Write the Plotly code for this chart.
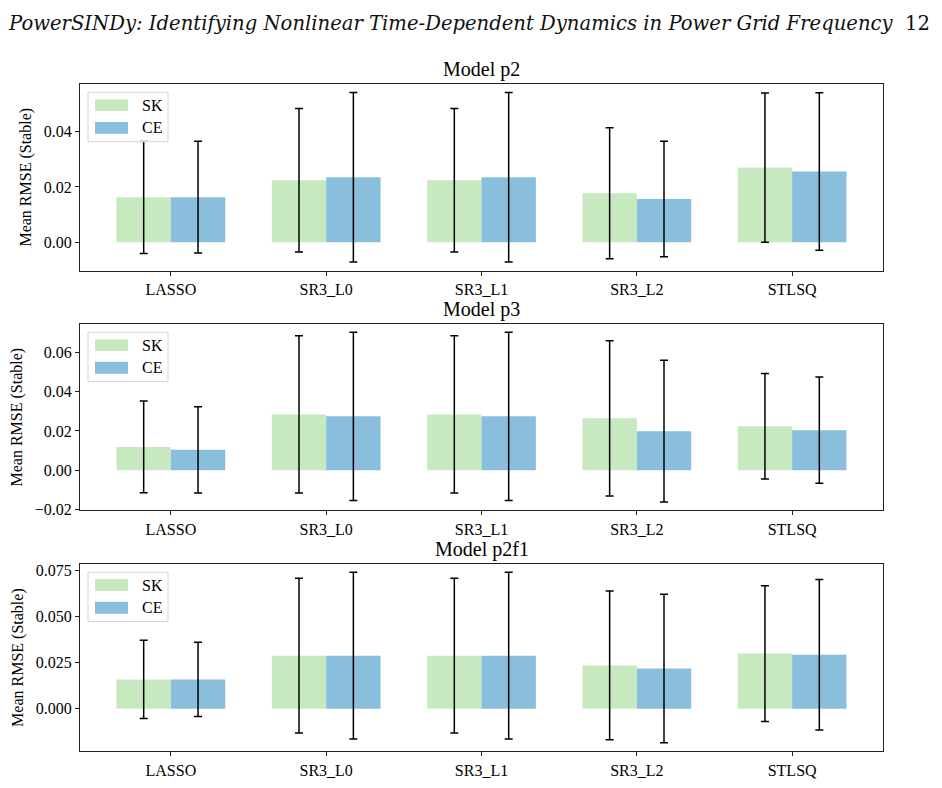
import plotly.graph_objects as go

W, H = 942, 788

methods = ["LASSO", "SR3_L0", "SR3_L1", "SR3_L2", "STLSQ"]
models = ["p2", "p3", "p2f1"]

# Mean RMSE (Stable) and its standard deviation, per model
sk_mean = {
    "p2":   [0.0163, 0.0224, 0.0224, 0.0177, 0.0270],
    "p3":   [0.0119, 0.0284, 0.0284, 0.0264, 0.0224],
    "p2f1": [0.0159, 0.0288, 0.0288, 0.0235, 0.0299],
}
sk_std = {
    "p2":   [0.0204, 0.0260, 0.0260, 0.0237, 0.0270],
    "p3":   [0.0233, 0.0400, 0.0400, 0.0394, 0.0268],
    "p2f1": [0.0212, 0.0420, 0.0420, 0.0403, 0.0368],
}
ce_mean = {
    "p2":   [0.0163, 0.0235, 0.0235, 0.0156, 0.0256],
    "p3":   [0.0104, 0.0274, 0.0274, 0.0199, 0.0204],
    "p2f1": [0.0159, 0.0288, 0.0288, 0.0218, 0.0293],
}
ce_std = {
    "p2":   [0.0202, 0.0307, 0.0307, 0.0209, 0.0285],
    "p3":   [0.0219, 0.0427, 0.0427, 0.0360, 0.0270],
    "p2f1": [0.0201, 0.0452, 0.0452, 0.0403, 0.0408],
}
ytick_step = {"p2": 0.02, "p3": 0.02, "p2f1": 0.025}
ytick_fmt = {"p2": ".2f", "p3": ".2f", "p2f1": ".3f"}

SK_COLOR = "#c7e9c0"
CE_COLOR = "#89bedc"
FONT = "Liberation Serif, Times New Roman, serif"

# axes boxes in pixels (left, top, right, bottom)
boxes = [(80, 83, 883, 272), (80, 326, 883, 515), (80, 569, 883, 759)]


def px(x):
    return x / W


def py(y):
    return 1 - y / H


fig = go.Figure()
layout = dict(
    width=W, height=H, margin=dict(l=0, r=0, t=0, b=0),
    paper_bgcolor="white", plot_bgcolor="white",
    barmode="group", bargap=0.3, bargroupgap=0,
    showlegend=False, font=dict(family=FONT, size=16, color="black"),
)
shapes = []
annotations = []

for i, m in enumerate(models):
    n = "" if i == 0 else str(i + 1)
    xa, ya = "x" + n, "y" + n
    for name, means, stds, col in (("SK", sk_mean, sk_std, SK_COLOR),
                                   ("CE", ce_mean, ce_std, CE_COLOR)):
        fig.add_trace(go.Bar(
            x=methods, y=means[m], name=name, marker_color=col,
            marker_line_width=0, xaxis=xa, yaxis=ya,
            error_y=dict(type="data", array=stds[m], visible=True,
                         color="black", thickness=1.5, width=4),
        ))
    lo = min(0, min(a - b for a, b in zip(sk_mean[m], sk_std[m])),
             min(a - b for a, b in zip(ce_mean[m], ce_std[m])))
    hi = max(max(a + b for a, b in zip(sk_mean[m], sk_std[m])),
             max(a + b for a, b in zip(ce_mean[m], ce_std[m])))
    pad = 0.05 * (hi - lo)
    l, t, r, b = boxes[i]
    axis_common = dict(showline=True, mirror=True, linecolor="#222222",
                       linewidth=1, ticks="outside", ticklen=4,
                       tickcolor="#222222", showgrid=False, zeroline=False,
                       tickfont=dict(family=FONT, size=16, color="black"))
    layout["xaxis" + n] = dict(axis_common, domain=[px(l), px(r)],
                               anchor=ya, range=[-0.585, 4.585],
                               type="category")
    layout["yaxis" + n] = dict(axis_common, domain=[py(b), py(t)],
                               anchor=xa, range=[lo - pad, hi + pad],
                               dtick=ytick_step[m], tick0=0,
                               tickformat=ytick_fmt[m],
                               title=dict(text="Mean RMSE (Stable)",
                                          font=dict(family=FONT, size=16),
                                          standoff=8))
    # subplot title
    annotations.append(dict(text="Model " + m, x=px((l + r) / 2), y=py(t),
                            xref="paper", yref="paper", xanchor="center",
                            yanchor="bottom", yshift=1, showarrow=False,
                            font=dict(family=FONT, size=20, color="black")))
    # legend box (drawn by hand to mimic the wide patches)
    lx, ly = l + 8, t + 8.5
    shapes.append(dict(type="rect", xref="paper", yref="paper",
                       x0=px(lx), x1=px(lx + 80), y0=py(ly), y1=py(ly + 50),
                       line=dict(color="#d5d5d5", width=1),
                       fillcolor="rgba(255,255,255,0.85)", layer="above"))
    for k, (lab, col) in enumerate((("SK", SK_COLOR), ("CE", CE_COLOR))):
        cy = ly + 13 + 23 * k
        shapes.append(dict(type="rect", xref="paper", yref="paper",
                           x0=px(lx + 7), x1=px(lx + 40),
                           y0=py(cy - 6), y1=py(cy + 6),
                           line=dict(width=0), fillcolor=col, layer="above"))
        annotations.append(dict(text=lab, x=px(lx + 52), y=py(cy),
                                xref="paper", yref="paper", xanchor="left",
                                yanchor="middle", showarrow=False,
                                font=dict(family=FONT, size=16,
                                          color="black")))

# page header
annotations.append(dict(
    text="<i>PowerSINDy: Identifying Nonlinear Time-Dependent Dynamics in Power Grid Frequency</i>",
    x=px(6), y=py(22), xref="paper", yref="paper", xanchor="left",
    yanchor="middle", showarrow=False,
    font=dict(family="DejaVu Serif", size=19.6, color="#111111")))
annotations.append(dict(
    text="12", x=px(932), y=py(22), xref="paper", yref="paper",
    xanchor="right", yanchor="middle", showarrow=False,
    font=dict(family="DejaVu Serif", size=19.6, color="#111111")))

layout["shapes"] = shapes
layout["annotations"] = annotations
fig.update_layout(**layout)
fig.write_html("out.html")
